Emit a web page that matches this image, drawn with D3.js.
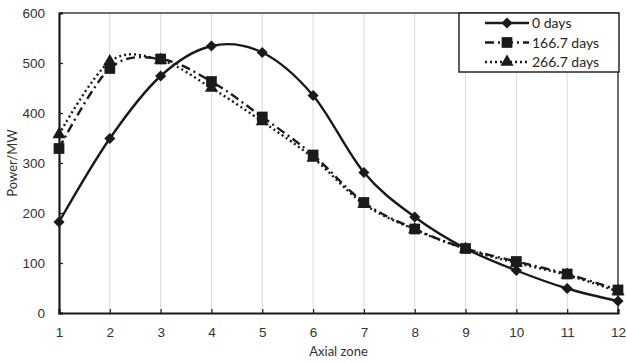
<!DOCTYPE html>
<html><head><meta charset="utf-8">
<script src="https://cdn.jsdelivr.net/npm/d3@7"></script>
<style>body{margin:0;background:#fff}svg{display:block;font-family:Lato,"Open Sans",sans-serif}</style>
</head><body><svg id="c" width="626" height="363"></svg>
<script>
const zones = [1,2,3,4,5,6,7,8,9,10,11,12];
const days0 = [182,349,474,534,521,435,281,192,129,85,49,24];
const days166 = [329,489,508,463,392,316,221,168,129,103,78,46];
const days266 = [357,503,506,450,383,310,218,167,128,100,76,43];
const seriesNames = ["0 days","166.7 days","266.7 days"];
const yTicks = [0,100,200,300,400,500,600];

const svg = d3.select("#c");
const m = {l:59,r:618,t:13,b:313};
const x = d3.scaleLinear().domain([1,12]).range([m.l,m.r]);
const y = d3.scaleLinear().domain([0,600]).range([m.b,m.t]);
const ink = "#1a1a1a";

// vertical gridlines
svg.append("g").selectAll("line").data(zones.slice(1)).join("line")
  .attr("x1",d=>x(d)).attr("x2",d=>x(d)).attr("y1",m.t).attr("y2",m.b)
  .attr("stroke","#d9d9d9").attr("stroke-width",1);

// plot border top/right
svg.append("path").attr("d",`M${m.l},${m.t}H${m.r}V${m.b}`).attr("fill","none")
  .attr("stroke","#404040").attr("stroke-width",1.5);

// axes
const xa = svg.append("g").attr("transform",`translate(0,${m.b})`)
  .call(d3.axisBottom(x).tickValues(zones).tickSize(-4).tickPadding(14).tickFormat(d3.format("d")));
const ya = svg.append("g").attr("transform",`translate(${m.l},0)`)
  .call(d3.axisLeft(y).tickValues(yTicks).tickSize(-4).tickPadding(14));
[xa,ya].forEach(a=>{
  a.select(".domain").attr("stroke",ink).attr("stroke-width",2.2);
  a.selectAll(".tick line").attr("stroke",ink).attr("stroke-width",1.2);
  a.selectAll("text").attr("fill","#333").style("font-size","13.5px");
});

// titles
svg.append("text").attr("x",(m.l+m.r)/2).attr("y",356).attr("text-anchor","middle")
  .attr("fill","#333").style("font-size","13px").text("Axial zone");
svg.append("text").attr("transform",`translate(17,${(m.t+m.b)/2}) rotate(-90)`).attr("text-anchor","middle")
  .attr("fill","#333").style("font-size","13px").text("Power/MW");

const line = d3.line().x((d,i)=>x(zones[i])).y(d=>y(d)).curve(d3.curveCardinal.tension(0));
const styles = [
  {data:days0, dash:null, marker:"diamond"},
  {data:days166, dash:"9,4,2,4", marker:"square"},
  {data:days266, dash:"2,3", marker:"triangle"}
];
const sym = {diamond:d3.symbol(d3.symbolSquare,62), square:d3.symbol(d3.symbolSquare,115), triangle:d3.symbol(d3.symbolTriangle,75)};
const rot = {diamond:" rotate(45)", square:"", triangle:""};

styles.forEach(s=>{
  svg.append("path").attr("d",line(s.data)).attr("fill","none").attr("stroke",ink)
    .attr("stroke-width",2.4).attr("stroke-dasharray",s.dash);
});
[2,1,0].forEach(k=>{
  const s = styles[k];
  svg.append("g").selectAll("path").data(s.data).join("path")
    .attr("transform",(d,i)=>`translate(${x(zones[i])},${y(d)})${rot[s.marker]}`)
    .attr("d",sym[s.marker]).attr("fill",ink);
});

// legend
const lg = svg.append("g");
lg.append("rect").attr("x",459).attr("y",13).attr("width",160).attr("height",59)
  .attr("fill","#fff").attr("stroke","#262626").attr("stroke-width",1.5);
styles.forEach((s,i)=>{
  const yy = 23 + i*19.5;
  lg.append("line").attr("x1",485).attr("x2",529).attr("y1",yy).attr("y2",yy)
    .attr("stroke",ink).attr("stroke-width",2.4).attr("stroke-dasharray",s.dash);
  lg.append("path").attr("transform",`translate(507,${yy})${rot[s.marker]}`).attr("d",sym[s.marker]).attr("fill",ink);
  lg.append("text").attr("x",532).attr("y",yy+5).attr("fill","#262626").style("font-size","14px").text(seriesNames[i]);
});
</script></body></html>
